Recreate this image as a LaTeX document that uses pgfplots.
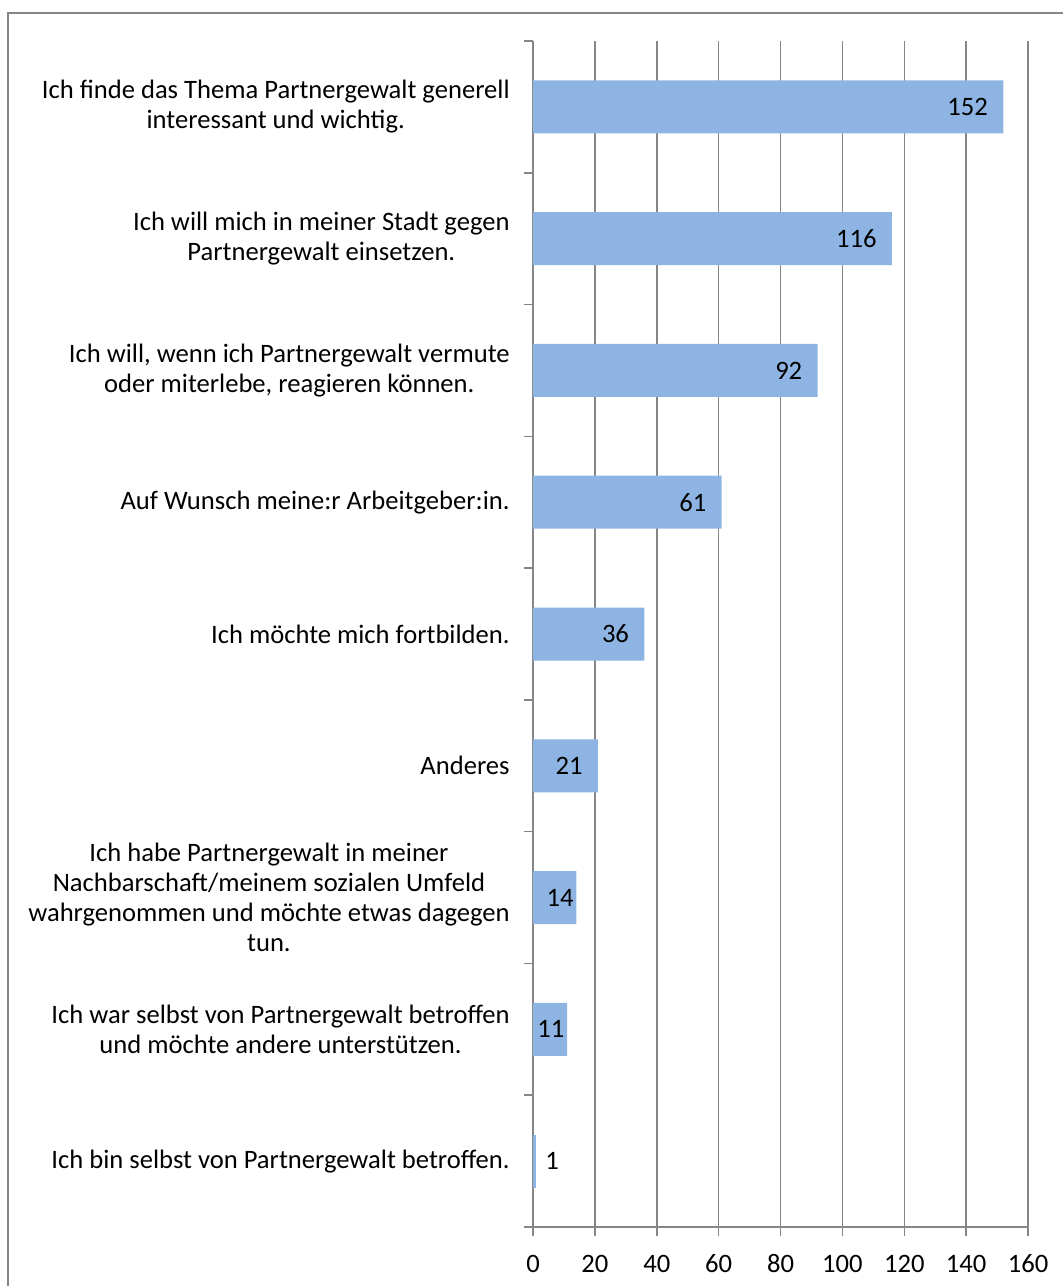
\documentclass[border=0pt]{standalone}
\usepackage{fontspec}
\setmainfont{Carlito}
\usepackage{pgfplots}
\pgfplotsset{compat=1.18}
\definecolor{barblue}{RGB}{142,180,227}
\definecolor{gridgray}{RGB}{134,134,134}

\begin{document}
\begin{tikzpicture}
\path[use as bounding box] (0,0) rectangle (531.5pt,643pt);
\clip (0,0) rectangle (531.5pt,643pt);
\draw[gridgray, line width=1pt] (4pt,-10pt) -- (4pt,636.5pt) -- (560pt,636.5pt);
\begin{axis}[
  at={(266.5pt,29.5pt)}, anchor=south west,
  scale only axis,
  width=247.5pt, height=593pt,
  xmin=0, xmax=160,
  ymin=0.5, ymax=9.5,
  y dir=reverse,
  axis x line*=bottom, axis y line*=left,
  axis line style={gridgray, line width=0.75pt},
  xtick={0,20,...,160},
  xmajorgrids,
  grid style={gridgray, line width=0.75pt},
  tick align=outside,
  major tick length=4.5pt,
  tick style={gridgray, line width=0.75pt},
  ytick={0.5,1.5,...,9.5},
  yticklabels={},
  extra y ticks={1,...,9},
  extra y tick style={major tick length=0pt,
    yticklabel style={align=center, font=\fontsize{13.3}{15}\selectfont,
      inner sep=0pt, xshift=-11.5pt}},
  extra y tick labels={
    {Ich finde das Thema Partnergewalt generell\\interessant und wichtig.},
    {Ich will mich in meiner Stadt gegen\\Partnergewalt einsetzen.},
    {Ich will, wenn ich Partnergewalt vermute\\oder miterlebe, reagieren können.},
    {Auf Wunsch meine:r Arbeitgeber:in.},
    {Ich möchte mich fortbilden.},
    {Anderes},
    {Ich habe Partnergewalt in meiner\\Nachbarschaft/meinem sozialen Umfeld\\wahrgenommen und möchte etwas dagegen\\tun.},
    {Ich war selbst von Partnergewalt betroffen\\und möchte andere unterstützen.},
    {Ich bin selbst von Partnergewalt betroffen.}
  },
  xticklabel style={font=\fontsize{13.3}{15}\selectfont, inner sep=0pt,
    text height=9pt, text depth=0pt, yshift=-9pt},
  /pgf/number format/assume math mode=true,
  xbar, bar width=26.5pt, bar shift=0pt,
  clip=false,
]
\addplot[fill=barblue, draw=none,
  nodes near coords,
  nodes near coords style={anchor=east, inner sep=0pt, xshift=-7.5pt, black,
    font=\fontsize{13.3}{15}\selectfont}]
  coordinates {(152,1) (116,2) (92,3) (61,4) (36,5) (21,6)};
\addplot[fill=barblue, draw=none,
  nodes near coords,
  nodes near coords style={anchor=east, inner sep=0pt, xshift=-1.2pt, black,
    font=\fontsize{13.3}{15}\selectfont}]
  coordinates {(14,7) (11,8)};
\addplot[fill=barblue, draw=none,
  nodes near coords,
  nodes near coords style={anchor=west, inner sep=0pt, xshift=4.5pt, black,
    font=\fontsize{13.3}{15}\selectfont}]
  coordinates {(1,9)};
\end{axis}
\end{tikzpicture}
\end{document}
